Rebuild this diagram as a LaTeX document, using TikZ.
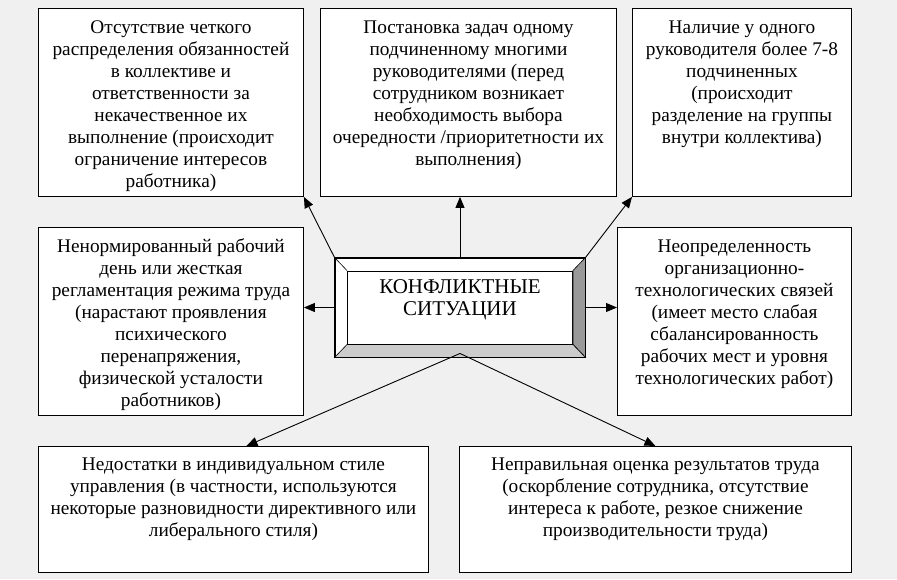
\documentclass[tikz,border=0pt]{standalone}
\usepackage{fontspec}
\setmainfont{Liberation Serif}
\usetikzlibrary{arrows.meta, positioning, calc}
\definecolor{bggray}{RGB}{240, 240, 240}
\definecolor{bevelside}{RGB}{153, 153, 153}
\definecolor{bevelbase}{RGB}{204, 204, 204}

\begin{document}
\begin{tikzpicture}[
  x=1pt, y=-1pt,
  font=\fontsize{19.3pt}{22pt}\selectfont,
  causebox/.style={draw, fill=white, line width=0.9pt, anchor=north west, inner sep=0pt},
  link/.style={line width=0.9pt, -{Triangle[length=11pt, width=9pt]}}
]
  % background
  \fill[bggray] (0,0) rectangle (897,579);
  \useasboundingbox (0,0) rectangle (897,579);

  % top row
  \node[causebox] (tl) at (38,8) {\parbox[c][188pt][t]{265pt}{\centering\vspace*{9.5pt}\strut
    Отсутствие четкого\\
    распределения обязанностей\\
    в коллективе и\\
    ответственности за\\
    некачественное их\\
    выполнение (происходит\\
    ограничение интересов\\
    работника)}};

  \node[causebox] (tm) at (320,8) {\parbox[c][188pt][t]{296pt}{\centering\vspace*{9.5pt}\strut
    Постановка задач одному\\
    подчиненному многими\\
    руководителями (перед\\
    сотрудником возникает\\
    необходимость выбора\\
    очередности /приоритетности их\\
    выполнения)}};

  \node[causebox] (tr) at (632,8) {\parbox[c][188pt][t]{219pt}{\centering\vspace*{9.5pt}\strut
    Наличие у одного\\
    руководителя более 7-8\\
    подчиненных\\
    (происходит\\
    разделение на группы\\
    внутри коллектива)}};

  % middle row
  \node[causebox] (ml) at (38,227) {\parbox[c][188pt][t]{265pt}{\centering\vspace*{9.5pt}\strut
    Ненормированный рабочий\\
    день или жесткая\\
    регламентация режима труда\\
    (нарастают проявления\\
    психического\\
    перенапряжения,\\
    физической усталости\\
    работников)}};

  \node[causebox] (mr) at (617,227) {\parbox[c][188pt][t]{234pt}{\centering\vspace*{9.5pt}\strut
    Неопределенность\\
    организационно-\\
    технологических связей\\
    (имеет место слабая\\
    сбалансированность\\
    рабочих мест и уровня\\
    технологических работ)}};

  % bottom row
  \node[causebox] (bl) at (38,446) {\parbox[c][126pt][t]{390pt}{\centering\vspace*{9pt}\strut
    Недостатки в индивидуальном стиле\\
    управления (в частности, используются\\
    некоторые разновидности директивного или\\
    либерального стиля)}};

  \node[causebox] (br) at (459,446) {\parbox[c][126pt][t]{392pt}{\centering\vspace*{9pt}\strut
    Неправильная оценка результатов труда\\
    (оскорбление сотрудника, отсутствие\\
    интереса к работе, резкое снижение\\
    производительности труда)}};

  % central bevelled box
  \node[draw, fill=white, line width=0.9pt, minimum width=250, minimum height=99, inner sep=0pt] (conf) at (460,307.5) {};
  \node[draw, fill=white, line width=0.9pt, inner sep=0pt] (conftext) at (conf) {\parbox[c][73pt][t]{225pt}{\centering\fontsize{21pt}{22pt}\selectfont\vspace*{7.5pt}\strut
    КОНФЛИКТНЫЕ\\
    СИТУАЦИИ}};
  \draw[fill=bevelside, line width=0.6pt] (conf.north east) -- (conftext.north east) -- (conftext.south east) -- (conf.south east) -- cycle;
  \draw[fill=bevelbase, line width=0.6pt] (conf.south west) -- (conftext.south west) -- (conftext.south east) -- (conf.south east) -- cycle;
  \draw[line width=0.6pt] (conf.north west) -- (conftext.north west);
  \draw[line width=0.9pt] (conf.north west) rectangle (conf.south east);

  % connectors
  \draw[link] (conf.north west) -- (tl.south east);
  \draw[link] (conf.north) -- (conf.north |- tm.south);
  \draw[link] (conf.north east) -- (tr.south west);
  \draw[link] (conf.west) -- (conf.west -| ml.east);
  \draw[link] (conf.east) -- (conf.east -| mr.west);
  \draw[link] ([yshift=4pt]conf.south) -- ([xshift=13pt]bl.north);
  \draw[link] ([yshift=4pt]conf.south) -- (br.north);
\end{tikzpicture}
\end{document}
